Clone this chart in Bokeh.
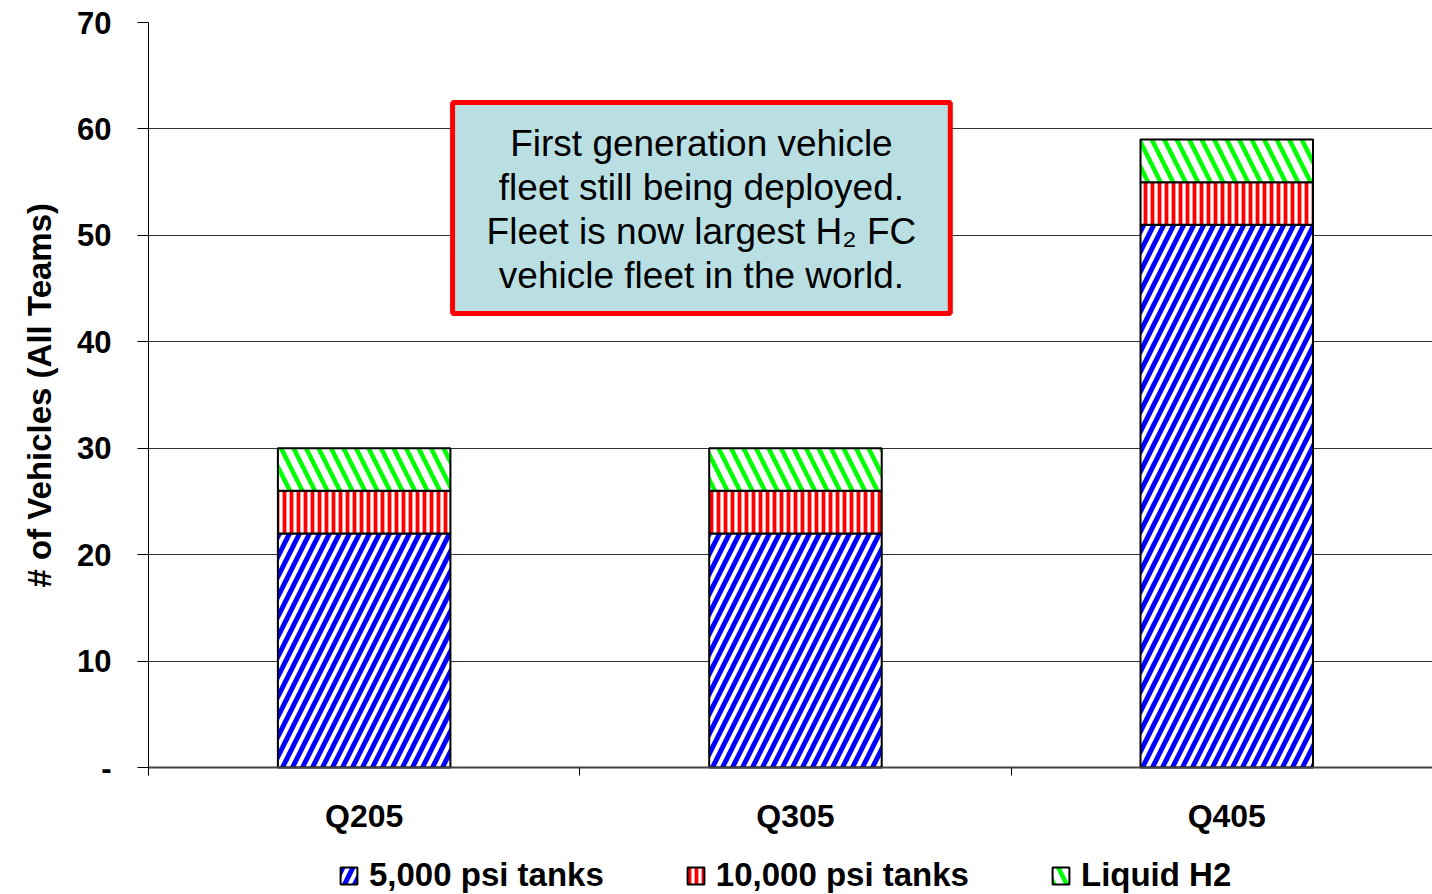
from bokeh.plotting import figure
from bokeh.models import (Range1d, FixedTicker, BoxAnnotation, Label, Legend, Title,
                          ColumnDataSource)
from bokeh.embed import file_html
from bokeh.resources import INLINE

# ---- data ----
categories = ["Q205", "Q305", "Q405"]
psi_5000 = [22, 22, 51]
psi_10000 = [4, 4, 4]
liquid_h2 = [4, 4, 4]
series_names = ["5,000 psi tanks", "10,000 psi tanks", "Liquid H2"]
y_ticks = [0, 10, 20, 30, 40, 50, 60, 70]
note_lines = ["First generation vehicle", "fleet still being deployed.",
              "Fleet is now largest H\u2082 FC", "vehicle fleet in the world."]

FONT = "Liberation Sans"

xs = [i + 0.5 for i in range(len(categories))]
src = ColumnDataSource(dict(x=xs, a=psi_5000, b=psi_10000, c=liquid_h2))

# frame extends below zero so the legend can sit inside it
p = figure(frame_width=1284, frame_height=872, output_backend="svg", toolbar_location=None,
           x_range=Range1d(0, 2.977), y_range=Range1d(-11.93, 70),
           min_border_left=148, min_border_right=0, min_border_top=22,
           min_border_bottom=0)
p.outline_line_color = None
p.xgrid.grid_line_color = None
p.ygrid.grid_line_color = "#333333"
p.ygrid.grid_line_width = 1
p.ygrid.ticker = FixedTicker(ticks=y_ticks)

renderers = p.vbar_stack(["a", "b", "c"], x="x", width=0.4, source=src,
                         fill_color="white", line_color="black", line_width=2,
                         hatch_color=["#0000FF", "#FF0000", "#00FF00"],
                         hatch_pattern=["/", "|", "\\"],
                         hatch_scale=[20, 7, 25],
                         hatch_weight=[5, 3.8, 4.5])

# axes
p.yaxis.ticker = FixedTicker(ticks=y_ticks)
p.yaxis.bounds = (-0.75, 70)
p.yaxis.major_label_overrides = {0: "-"}
p.yaxis.major_label_text_font = FONT
p.yaxis.major_label_text_font_style = "bold"
p.yaxis.major_label_text_font_size = "31px"
p.yaxis.major_label_text_color = "black"
p.yaxis.major_tick_out = 11
p.yaxis.major_tick_in = 0
p.yaxis.minor_tick_line_color = None
p.yaxis.major_label_standoff = 26
p.yaxis.axis_line_color = "black"

ytitle = Title(text="# of Vehicles (All Teams)", align="left", offset=307,
               text_font=FONT, text_font_style="bold", text_font_size="33px",
               text_color="black", standoff=33)
p.add_layout(ytitle, "left")

p.xaxis.fixed_location = 0
p.xaxis.ticker = FixedTicker(ticks=xs, minor_ticks=[0, 1, 2, 3])
p.xaxis.major_label_overrides = {x: c for x, c in zip(xs, categories)}
p.xaxis.major_label_text_font = FONT
p.xaxis.major_label_text_font_style = "bold"
p.xaxis.major_label_text_font_size = "32px"
p.xaxis.major_label_text_color = "black"
p.xaxis.major_tick_out = 0
p.xaxis.major_tick_in = 0
p.xaxis.minor_tick_out = 8
p.xaxis.minor_tick_in = 0
p.xaxis.minor_tick_line_color = "black"
p.xaxis.major_label_standoff = 22
p.xaxis.axis_line_color = "#444444"
p.xaxis.axis_line_width = 2

# annotation box
box = BoxAnnotation(left=0.705, right=1.859, bottom=42.66, top=62.48,
                    fill_color="#B9DFE3", fill_alpha=1,
                    line_color="#FF0000", line_width=5, line_alpha=1)
p.add_layout(box)
for i, t in enumerate(note_lines):
    p.add_layout(Label(x=1.282, y=58.63 - i * 4.135, text=t, text_align="center",
                       text_baseline="middle", text_font=FONT,
                       text_font_size="37px", text_color="black"))

legend = Legend(items=[(n, [r]) for n, r in zip(series_names, renderers)],
                orientation="horizontal", location=(190, 0),
                glyph_width=21, glyph_height=21, label_standoff=10, spacing=81,
                padding=0, margin=0, border_line_alpha=0, background_fill_alpha=0,
                label_text_font=FONT, label_text_font_style="bold",
                label_text_font_size="33px", label_text_color="black")
p.add_layout(legend)

open("out.html", "w").write(file_html(p, INLINE))
